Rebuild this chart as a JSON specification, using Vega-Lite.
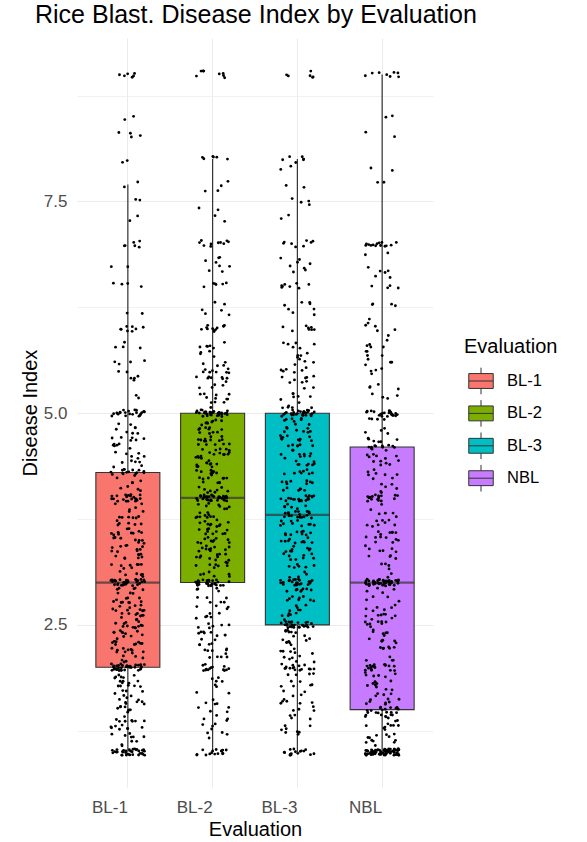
{
"$schema": "https://vega.github.io/schema/vega-lite/v6.json",
"autosize": {"type": "none"},
"padding": {"left": 77, "top": 38, "right": 154, "bottom": 55},
"width": 356,
"height": 749,
"title": {"text": "Rice Blast. Disease Index by Evaluation", "anchor": "start", "frame": "group", "dx": -42, "dy": 24.5, "fontSize": 25, "fontWeight": "normal", "color": "black", "baseline": "alphabetic", "offset": 14.7},
"config": {"font": "Liberation Sans", "view": {"stroke": null}},
"data": {"values": [
{"e":"BL-1","v":1},{"e":"BL-1","v":1},{"e":"BL-1","v":1},{"e":"BL-1","v":1},{"e":"BL-1","v":1},{"e":"BL-1","v":1},{"e":"BL-1","v":1},{"e":"BL-1","v":1},{"e":"BL-1","v":1},{"e":"BL-1","v":1},{"e":"BL-1","v":1},{"e":"BL-1","v":1},{"e":"BL-1","v":1},{"e":"BL-1","v":1},{"e":"BL-1","v":1},{"e":"BL-1","v":1},{"e":"BL-1","v":1},{"e":"BL-1","v":1},
{"e":"BL-1","v":1.1},{"e":"BL-1","v":1.1},
{"e":"BL-1","v":1.2},{"e":"BL-1","v":1.2},{"e":"BL-1","v":1.2},
{"e":"BL-1","v":1.3},{"e":"BL-1","v":1.3},{"e":"BL-1","v":1.3},{"e":"BL-1","v":1.3},
{"e":"BL-1","v":1.4},{"e":"BL-1","v":1.4},{"e":"BL-1","v":1.4},{"e":"BL-1","v":1.4},
{"e":"BL-1","v":1.5},{"e":"BL-1","v":1.5},{"e":"BL-1","v":1.5},{"e":"BL-1","v":1.5},
{"e":"BL-1","v":1.6},{"e":"BL-1","v":1.6},{"e":"BL-1","v":1.6},{"e":"BL-1","v":1.6},
{"e":"BL-1","v":1.7},{"e":"BL-1","v":1.7},{"e":"BL-1","v":1.7},
{"e":"BL-1","v":1.8},{"e":"BL-1","v":1.8},{"e":"BL-1","v":1.8},{"e":"BL-1","v":1.8},{"e":"BL-1","v":1.8},
{"e":"BL-1","v":1.9},{"e":"BL-1","v":1.9},{"e":"BL-1","v":1.9},
{"e":"BL-1","v":2},{"e":"BL-1","v":2},{"e":"BL-1","v":2},{"e":"BL-1","v":2},{"e":"BL-1","v":2},{"e":"BL-1","v":2},{"e":"BL-1","v":2},{"e":"BL-1","v":2},{"e":"BL-1","v":2},{"e":"BL-1","v":2},{"e":"BL-1","v":2},{"e":"BL-1","v":2},{"e":"BL-1","v":2},{"e":"BL-1","v":2},{"e":"BL-1","v":2},{"e":"BL-1","v":2},{"e":"BL-1","v":2},
{"e":"BL-1","v":2.1},{"e":"BL-1","v":2.1},{"e":"BL-1","v":2.1},
{"e":"BL-1","v":2.2},{"e":"BL-1","v":2.2},{"e":"BL-1","v":2.2},{"e":"BL-1","v":2.2},{"e":"BL-1","v":2.2},
{"e":"BL-1","v":2.3},{"e":"BL-1","v":2.3},{"e":"BL-1","v":2.3},{"e":"BL-1","v":2.3},{"e":"BL-1","v":2.3},
{"e":"BL-1","v":2.4},{"e":"BL-1","v":2.4},{"e":"BL-1","v":2.4},{"e":"BL-1","v":2.4},{"e":"BL-1","v":2.4},
{"e":"BL-1","v":2.5},{"e":"BL-1","v":2.5},{"e":"BL-1","v":2.5},{"e":"BL-1","v":2.5},{"e":"BL-1","v":2.5},{"e":"BL-1","v":2.5},
{"e":"BL-1","v":2.6},{"e":"BL-1","v":2.6},{"e":"BL-1","v":2.6},{"e":"BL-1","v":2.6},{"e":"BL-1","v":2.6},
{"e":"BL-1","v":2.7},{"e":"BL-1","v":2.7},{"e":"BL-1","v":2.7},{"e":"BL-1","v":2.7},{"e":"BL-1","v":2.7},
{"e":"BL-1","v":2.8},{"e":"BL-1","v":2.8},{"e":"BL-1","v":2.8},{"e":"BL-1","v":2.8},{"e":"BL-1","v":2.8},
{"e":"BL-1","v":2.9},{"e":"BL-1","v":2.9},{"e":"BL-1","v":2.9},{"e":"BL-1","v":2.9},
{"e":"BL-1","v":3},{"e":"BL-1","v":3},{"e":"BL-1","v":3},{"e":"BL-1","v":3},{"e":"BL-1","v":3},{"e":"BL-1","v":3},{"e":"BL-1","v":3},{"e":"BL-1","v":3},{"e":"BL-1","v":3},{"e":"BL-1","v":3},{"e":"BL-1","v":3},{"e":"BL-1","v":3},{"e":"BL-1","v":3},{"e":"BL-1","v":3},{"e":"BL-1","v":3},{"e":"BL-1","v":3},{"e":"BL-1","v":3},
{"e":"BL-1","v":3.1},{"e":"BL-1","v":3.1},{"e":"BL-1","v":3.1},
{"e":"BL-1","v":3.2},{"e":"BL-1","v":3.2},{"e":"BL-1","v":3.2},{"e":"BL-1","v":3.2},
{"e":"BL-1","v":3.3},{"e":"BL-1","v":3.3},{"e":"BL-1","v":3.3},{"e":"BL-1","v":3.3},
{"e":"BL-1","v":3.4},{"e":"BL-1","v":3.4},{"e":"BL-1","v":3.4},{"e":"BL-1","v":3.4},{"e":"BL-1","v":3.4},
{"e":"BL-1","v":3.5},{"e":"BL-1","v":3.5},{"e":"BL-1","v":3.5},{"e":"BL-1","v":3.5},
{"e":"BL-1","v":3.6},{"e":"BL-1","v":3.6},{"e":"BL-1","v":3.6},{"e":"BL-1","v":3.6},{"e":"BL-1","v":3.6},
{"e":"BL-1","v":3.7},{"e":"BL-1","v":3.7},{"e":"BL-1","v":3.7},
{"e":"BL-1","v":3.8},{"e":"BL-1","v":3.8},{"e":"BL-1","v":3.8},{"e":"BL-1","v":3.8},
{"e":"BL-1","v":3.9},{"e":"BL-1","v":3.9},
{"e":"BL-1","v":4},{"e":"BL-1","v":4},{"e":"BL-1","v":4},{"e":"BL-1","v":4},{"e":"BL-1","v":4},{"e":"BL-1","v":4},{"e":"BL-1","v":4},{"e":"BL-1","v":4},{"e":"BL-1","v":4},{"e":"BL-1","v":4},{"e":"BL-1","v":4},
{"e":"BL-1","v":4.1},{"e":"BL-1","v":4.1},
{"e":"BL-1","v":4.2},{"e":"BL-1","v":4.2},
{"e":"BL-1","v":4.3},{"e":"BL-1","v":4.3},{"e":"BL-1","v":4.3},{"e":"BL-1","v":4.3},{"e":"BL-1","v":4.3},{"e":"BL-1","v":4.3},{"e":"BL-1","v":4.3},{"e":"BL-1","v":4.3},
{"e":"BL-1","v":4.4},{"e":"BL-1","v":4.4},{"e":"BL-1","v":4.4},
{"e":"BL-1","v":4.5},{"e":"BL-1","v":4.5},{"e":"BL-1","v":4.5},
{"e":"BL-1","v":4.6},{"e":"BL-1","v":4.6},{"e":"BL-1","v":4.6},
{"e":"BL-1","v":4.7},{"e":"BL-1","v":4.7},{"e":"BL-1","v":4.7},
{"e":"BL-1","v":4.8},{"e":"BL-1","v":4.8},{"e":"BL-1","v":4.8},
{"e":"BL-1","v":4.9},
{"e":"BL-1","v":5},{"e":"BL-1","v":5},{"e":"BL-1","v":5},{"e":"BL-1","v":5},{"e":"BL-1","v":5},{"e":"BL-1","v":5},{"e":"BL-1","v":5},{"e":"BL-1","v":5},{"e":"BL-1","v":5},{"e":"BL-1","v":5},{"e":"BL-1","v":5},
{"e":"BL-1","v":5.2},
{"e":"BL-1","v":5.4},{"e":"BL-1","v":5.4},
{"e":"BL-1","v":5.5},
{"e":"BL-1","v":5.6},{"e":"BL-1","v":5.6},
{"e":"BL-1","v":5.8},{"e":"BL-1","v":5.8},
{"e":"BL-1","v":6},{"e":"BL-1","v":6},{"e":"BL-1","v":6},{"e":"BL-1","v":6},
{"e":"BL-1","v":6.2},
{"e":"BL-1","v":6.5},{"e":"BL-1","v":6.5},
{"e":"BL-1","v":6.7},
{"e":"BL-1","v":7},{"e":"BL-1","v":7},{"e":"BL-1","v":7},
{"e":"BL-1","v":7.3},{"e":"BL-1","v":7.5},{"e":"BL-1","v":7.7},
{"e":"BL-1","v":8},
{"e":"BL-1","v":8.3},{"e":"BL-1","v":8.3},
{"e":"BL-1","v":8.5},
{"e":"BL-1","v":9},{"e":"BL-1","v":9},{"e":"BL-1","v":9},
{"e":"BL-1","v":1},{"e":"BL-1","v":1},{"e":"BL-1","v":1},{"e":"BL-1","v":1},{"e":"BL-1","v":1},{"e":"BL-1","v":1},{"e":"BL-1","v":1},{"e":"BL-1","v":1},{"e":"BL-1","v":1},{"e":"BL-1","v":1},{"e":"BL-1","v":1},{"e":"BL-1","v":1},{"e":"BL-1","v":1},{"e":"BL-1","v":1},{"e":"BL-1","v":1},{"e":"BL-1","v":1},{"e":"BL-1","v":1},{"e":"BL-1","v":1},
{"e":"BL-1","v":1.1},{"e":"BL-1","v":1.1},
{"e":"BL-1","v":1.2},{"e":"BL-1","v":1.2},{"e":"BL-1","v":1.2},
{"e":"BL-1","v":1.3},{"e":"BL-1","v":1.3},{"e":"BL-1","v":1.3},{"e":"BL-1","v":1.3},
{"e":"BL-1","v":1.4},{"e":"BL-1","v":1.4},{"e":"BL-1","v":1.4},{"e":"BL-1","v":1.4},
{"e":"BL-1","v":1.5},{"e":"BL-1","v":1.5},{"e":"BL-1","v":1.5},{"e":"BL-1","v":1.5},
{"e":"BL-1","v":1.6},{"e":"BL-1","v":1.6},{"e":"BL-1","v":1.6},{"e":"BL-1","v":1.6},
{"e":"BL-1","v":1.7},{"e":"BL-1","v":1.7},{"e":"BL-1","v":1.7},
{"e":"BL-1","v":1.8},{"e":"BL-1","v":1.8},{"e":"BL-1","v":1.8},{"e":"BL-1","v":1.8},{"e":"BL-1","v":1.8},
{"e":"BL-1","v":1.9},{"e":"BL-1","v":1.9},{"e":"BL-1","v":1.9},
{"e":"BL-1","v":2},{"e":"BL-1","v":2},{"e":"BL-1","v":2},{"e":"BL-1","v":2},{"e":"BL-1","v":2},{"e":"BL-1","v":2},{"e":"BL-1","v":2},{"e":"BL-1","v":2},{"e":"BL-1","v":2},{"e":"BL-1","v":2},{"e":"BL-1","v":2},{"e":"BL-1","v":2},{"e":"BL-1","v":2},{"e":"BL-1","v":2},{"e":"BL-1","v":2},{"e":"BL-1","v":2},{"e":"BL-1","v":2},
{"e":"BL-1","v":2.1},{"e":"BL-1","v":2.1},{"e":"BL-1","v":2.1},
{"e":"BL-1","v":2.2},{"e":"BL-1","v":2.2},{"e":"BL-1","v":2.2},{"e":"BL-1","v":2.2},{"e":"BL-1","v":2.2},
{"e":"BL-1","v":2.3},{"e":"BL-1","v":2.3},{"e":"BL-1","v":2.3},{"e":"BL-1","v":2.3},{"e":"BL-1","v":2.3},
{"e":"BL-1","v":2.4},{"e":"BL-1","v":2.4},{"e":"BL-1","v":2.4},{"e":"BL-1","v":2.4},{"e":"BL-1","v":2.4},
{"e":"BL-1","v":2.5},{"e":"BL-1","v":2.5},{"e":"BL-1","v":2.5},{"e":"BL-1","v":2.5},{"e":"BL-1","v":2.5},{"e":"BL-1","v":2.5},
{"e":"BL-1","v":2.6},{"e":"BL-1","v":2.6},{"e":"BL-1","v":2.6},{"e":"BL-1","v":2.6},{"e":"BL-1","v":2.6},
{"e":"BL-1","v":2.7},{"e":"BL-1","v":2.7},{"e":"BL-1","v":2.7},{"e":"BL-1","v":2.7},{"e":"BL-1","v":2.7},
{"e":"BL-1","v":2.8},{"e":"BL-1","v":2.8},{"e":"BL-1","v":2.8},{"e":"BL-1","v":2.8},{"e":"BL-1","v":2.8},
{"e":"BL-1","v":2.9},{"e":"BL-1","v":2.9},{"e":"BL-1","v":2.9},{"e":"BL-1","v":2.9},
{"e":"BL-1","v":3},{"e":"BL-1","v":3},{"e":"BL-1","v":3},{"e":"BL-1","v":3},{"e":"BL-1","v":3},{"e":"BL-1","v":3},{"e":"BL-1","v":3},{"e":"BL-1","v":3},{"e":"BL-1","v":3},{"e":"BL-1","v":3},{"e":"BL-1","v":3},{"e":"BL-1","v":3},{"e":"BL-1","v":3},{"e":"BL-1","v":3},{"e":"BL-1","v":3},{"e":"BL-1","v":3},{"e":"BL-1","v":3},
{"e":"BL-1","v":3.1},{"e":"BL-1","v":3.1},{"e":"BL-1","v":3.1},
{"e":"BL-1","v":3.2},{"e":"BL-1","v":3.2},{"e":"BL-1","v":3.2},{"e":"BL-1","v":3.2},
{"e":"BL-1","v":3.3},{"e":"BL-1","v":3.3},{"e":"BL-1","v":3.3},{"e":"BL-1","v":3.3},
{"e":"BL-1","v":3.4},{"e":"BL-1","v":3.4},{"e":"BL-1","v":3.4},{"e":"BL-1","v":3.4},{"e":"BL-1","v":3.4},
{"e":"BL-1","v":3.5},{"e":"BL-1","v":3.5},{"e":"BL-1","v":3.5},{"e":"BL-1","v":3.5},
{"e":"BL-1","v":3.6},{"e":"BL-1","v":3.6},{"e":"BL-1","v":3.6},{"e":"BL-1","v":3.6},{"e":"BL-1","v":3.6},
{"e":"BL-1","v":3.7},{"e":"BL-1","v":3.7},{"e":"BL-1","v":3.7},
{"e":"BL-1","v":3.8},{"e":"BL-1","v":3.8},{"e":"BL-1","v":3.8},{"e":"BL-1","v":3.8},
{"e":"BL-1","v":3.9},{"e":"BL-1","v":3.9},
{"e":"BL-1","v":4},{"e":"BL-1","v":4},{"e":"BL-1","v":4},{"e":"BL-1","v":4},{"e":"BL-1","v":4},{"e":"BL-1","v":4},{"e":"BL-1","v":4},{"e":"BL-1","v":4},{"e":"BL-1","v":4},{"e":"BL-1","v":4},{"e":"BL-1","v":4},
{"e":"BL-1","v":4.1},{"e":"BL-1","v":4.1},
{"e":"BL-1","v":4.2},{"e":"BL-1","v":4.2},
{"e":"BL-1","v":4.3},{"e":"BL-1","v":4.3},{"e":"BL-1","v":4.3},{"e":"BL-1","v":4.3},{"e":"BL-1","v":4.3},{"e":"BL-1","v":4.3},{"e":"BL-1","v":4.3},{"e":"BL-1","v":4.3},
{"e":"BL-1","v":4.4},{"e":"BL-1","v":4.4},{"e":"BL-1","v":4.4},
{"e":"BL-1","v":4.5},{"e":"BL-1","v":4.5},{"e":"BL-1","v":4.5},
{"e":"BL-1","v":4.6},{"e":"BL-1","v":4.6},{"e":"BL-1","v":4.6},
{"e":"BL-1","v":4.7},{"e":"BL-1","v":4.7},{"e":"BL-1","v":4.7},
{"e":"BL-1","v":4.8},{"e":"BL-1","v":4.8},{"e":"BL-1","v":4.8},
{"e":"BL-1","v":4.9},
{"e":"BL-1","v":5},{"e":"BL-1","v":5},{"e":"BL-1","v":5},{"e":"BL-1","v":5},{"e":"BL-1","v":5},{"e":"BL-1","v":5},{"e":"BL-1","v":5},{"e":"BL-1","v":5},{"e":"BL-1","v":5},{"e":"BL-1","v":5},{"e":"BL-1","v":5},
{"e":"BL-1","v":5.2},
{"e":"BL-1","v":5.4},{"e":"BL-1","v":5.4},
{"e":"BL-1","v":5.5},
{"e":"BL-1","v":5.6},{"e":"BL-1","v":5.6},
{"e":"BL-1","v":5.8},{"e":"BL-1","v":5.8},
{"e":"BL-1","v":6},{"e":"BL-1","v":6},{"e":"BL-1","v":6},{"e":"BL-1","v":6},
{"e":"BL-1","v":6.2},
{"e":"BL-1","v":6.5},{"e":"BL-1","v":6.5},
{"e":"BL-1","v":6.7},
{"e":"BL-1","v":7},{"e":"BL-1","v":7},{"e":"BL-1","v":7},
{"e":"BL-1","v":7.3},{"e":"BL-1","v":7.5},{"e":"BL-1","v":7.7},
{"e":"BL-1","v":8},
{"e":"BL-1","v":8.3},{"e":"BL-1","v":8.3},
{"e":"BL-1","v":8.5},
{"e":"BL-1","v":9},{"e":"BL-1","v":9},{"e":"BL-1","v":9},

{"e":"BL-2","v":1},{"e":"BL-2","v":1},{"e":"BL-2","v":1},{"e":"BL-2","v":1},{"e":"BL-2","v":1},{"e":"BL-2","v":1},{"e":"BL-2","v":1},{"e":"BL-2","v":1},
{"e":"BL-2","v":1.2},{"e":"BL-2","v":1.2},
{"e":"BL-2","v":1.3},{"e":"BL-2","v":1.3},
{"e":"BL-2","v":1.4},{"e":"BL-2","v":1.4},
{"e":"BL-2","v":1.5},{"e":"BL-2","v":1.5},
{"e":"BL-2","v":1.6},{"e":"BL-2","v":1.6},
{"e":"BL-2","v":1.7},
{"e":"BL-2","v":1.8},{"e":"BL-2","v":1.8},
{"e":"BL-2","v":1.9},
{"e":"BL-2","v":2},{"e":"BL-2","v":2},{"e":"BL-2","v":2},{"e":"BL-2","v":2},{"e":"BL-2","v":2},{"e":"BL-2","v":2},{"e":"BL-2","v":2},
{"e":"BL-2","v":2.1},{"e":"BL-2","v":2.1},
{"e":"BL-2","v":2.2},{"e":"BL-2","v":2.2},{"e":"BL-2","v":2.2},
{"e":"BL-2","v":2.3},{"e":"BL-2","v":2.3},{"e":"BL-2","v":2.3},
{"e":"BL-2","v":2.4},{"e":"BL-2","v":2.4},{"e":"BL-2","v":2.4},{"e":"BL-2","v":2.4},
{"e":"BL-2","v":2.5},{"e":"BL-2","v":2.5},{"e":"BL-2","v":2.5},
{"e":"BL-2","v":2.6},{"e":"BL-2","v":2.6},{"e":"BL-2","v":2.6},
{"e":"BL-2","v":2.7},{"e":"BL-2","v":2.7},
{"e":"BL-2","v":2.8},{"e":"BL-2","v":2.8},{"e":"BL-2","v":2.8},
{"e":"BL-2","v":2.9},{"e":"BL-2","v":2.9},
{"e":"BL-2","v":3},{"e":"BL-2","v":3},{"e":"BL-2","v":3},{"e":"BL-2","v":3},{"e":"BL-2","v":3},{"e":"BL-2","v":3},{"e":"BL-2","v":3},{"e":"BL-2","v":3},{"e":"BL-2","v":3},{"e":"BL-2","v":3},{"e":"BL-2","v":3},{"e":"BL-2","v":3},{"e":"BL-2","v":3},{"e":"BL-2","v":3},
{"e":"BL-2","v":3.1},{"e":"BL-2","v":3.1},{"e":"BL-2","v":3.1},
{"e":"BL-2","v":3.2},{"e":"BL-2","v":3.2},{"e":"BL-2","v":3.2},{"e":"BL-2","v":3.2},
{"e":"BL-2","v":3.3},{"e":"BL-2","v":3.3},{"e":"BL-2","v":3.3},{"e":"BL-2","v":3.3},{"e":"BL-2","v":3.3},
{"e":"BL-2","v":3.4},{"e":"BL-2","v":3.4},{"e":"BL-2","v":3.4},{"e":"BL-2","v":3.4},{"e":"BL-2","v":3.4},
{"e":"BL-2","v":3.5},{"e":"BL-2","v":3.5},{"e":"BL-2","v":3.5},{"e":"BL-2","v":3.5},{"e":"BL-2","v":3.5},
{"e":"BL-2","v":3.6},{"e":"BL-2","v":3.6},{"e":"BL-2","v":3.6},{"e":"BL-2","v":3.6},{"e":"BL-2","v":3.6},
{"e":"BL-2","v":3.7},{"e":"BL-2","v":3.7},{"e":"BL-2","v":3.7},{"e":"BL-2","v":3.7},{"e":"BL-2","v":3.7},
{"e":"BL-2","v":3.8},{"e":"BL-2","v":3.8},{"e":"BL-2","v":3.8},{"e":"BL-2","v":3.8},{"e":"BL-2","v":3.8},
{"e":"BL-2","v":3.9},{"e":"BL-2","v":3.9},{"e":"BL-2","v":3.9},{"e":"BL-2","v":3.9},
{"e":"BL-2","v":4},{"e":"BL-2","v":4},{"e":"BL-2","v":4},{"e":"BL-2","v":4},{"e":"BL-2","v":4},{"e":"BL-2","v":4},{"e":"BL-2","v":4},{"e":"BL-2","v":4},{"e":"BL-2","v":4},{"e":"BL-2","v":4},{"e":"BL-2","v":4},{"e":"BL-2","v":4},{"e":"BL-2","v":4},{"e":"BL-2","v":4},{"e":"BL-2","v":4},{"e":"BL-2","v":4},
{"e":"BL-2","v":4.1},{"e":"BL-2","v":4.1},{"e":"BL-2","v":4.1},{"e":"BL-2","v":4.1},
{"e":"BL-2","v":4.2},{"e":"BL-2","v":4.2},{"e":"BL-2","v":4.2},{"e":"BL-2","v":4.2},{"e":"BL-2","v":4.2},
{"e":"BL-2","v":4.3},{"e":"BL-2","v":4.3},{"e":"BL-2","v":4.3},{"e":"BL-2","v":4.3},{"e":"BL-2","v":4.3},
{"e":"BL-2","v":4.4},{"e":"BL-2","v":4.4},{"e":"BL-2","v":4.4},{"e":"BL-2","v":4.4},{"e":"BL-2","v":4.4},
{"e":"BL-2","v":4.5},{"e":"BL-2","v":4.5},{"e":"BL-2","v":4.5},{"e":"BL-2","v":4.5},{"e":"BL-2","v":4.5},{"e":"BL-2","v":4.5},
{"e":"BL-2","v":4.6},{"e":"BL-2","v":4.6},{"e":"BL-2","v":4.6},{"e":"BL-2","v":4.6},{"e":"BL-2","v":4.6},
{"e":"BL-2","v":4.7},{"e":"BL-2","v":4.7},{"e":"BL-2","v":4.7},{"e":"BL-2","v":4.7},{"e":"BL-2","v":4.7},
{"e":"BL-2","v":4.8},{"e":"BL-2","v":4.8},{"e":"BL-2","v":4.8},{"e":"BL-2","v":4.8},{"e":"BL-2","v":4.8},
{"e":"BL-2","v":4.9},{"e":"BL-2","v":4.9},{"e":"BL-2","v":4.9},{"e":"BL-2","v":4.9},
{"e":"BL-2","v":5},{"e":"BL-2","v":5},{"e":"BL-2","v":5},{"e":"BL-2","v":5},{"e":"BL-2","v":5},{"e":"BL-2","v":5},{"e":"BL-2","v":5},{"e":"BL-2","v":5},{"e":"BL-2","v":5},{"e":"BL-2","v":5},{"e":"BL-2","v":5},{"e":"BL-2","v":5},{"e":"BL-2","v":5},{"e":"BL-2","v":5},{"e":"BL-2","v":5},{"e":"BL-2","v":5},
{"e":"BL-2","v":5.1},{"e":"BL-2","v":5.1},
{"e":"BL-2","v":5.2},{"e":"BL-2","v":5.2},{"e":"BL-2","v":5.2},{"e":"BL-2","v":5.2},
{"e":"BL-2","v":5.3},{"e":"BL-2","v":5.3},
{"e":"BL-2","v":5.4},{"e":"BL-2","v":5.4},{"e":"BL-2","v":5.4},{"e":"BL-2","v":5.4},
{"e":"BL-2","v":5.5},{"e":"BL-2","v":5.5},{"e":"BL-2","v":5.5},{"e":"BL-2","v":5.5},
{"e":"BL-2","v":5.6},{"e":"BL-2","v":5.6},
{"e":"BL-2","v":5.7},{"e":"BL-2","v":5.7},
{"e":"BL-2","v":5.8},{"e":"BL-2","v":5.8},{"e":"BL-2","v":5.8},
{"e":"BL-2","v":6},{"e":"BL-2","v":6},{"e":"BL-2","v":6},{"e":"BL-2","v":6},{"e":"BL-2","v":6},{"e":"BL-2","v":6},
{"e":"BL-2","v":6.2},{"e":"BL-2","v":6.2},
{"e":"BL-2","v":6.3},
{"e":"BL-2","v":6.5},{"e":"BL-2","v":6.5},{"e":"BL-2","v":6.5},
{"e":"BL-2","v":6.7},{"e":"BL-2","v":6.7},
{"e":"BL-2","v":6.8},{"e":"BL-2","v":6.8},
{"e":"BL-2","v":7},{"e":"BL-2","v":7},{"e":"BL-2","v":7},{"e":"BL-2","v":7},{"e":"BL-2","v":7},
{"e":"BL-2","v":7.3},{"e":"BL-2","v":7.4},{"e":"BL-2","v":7.6},{"e":"BL-2","v":7.7},
{"e":"BL-2","v":8},{"e":"BL-2","v":8},{"e":"BL-2","v":8},
{"e":"BL-2","v":9},{"e":"BL-2","v":9},{"e":"BL-2","v":9},{"e":"BL-2","v":9},
{"e":"BL-2","v":1},{"e":"BL-2","v":1},{"e":"BL-2","v":1},{"e":"BL-2","v":1},{"e":"BL-2","v":1},{"e":"BL-2","v":1},{"e":"BL-2","v":1},{"e":"BL-2","v":1},
{"e":"BL-2","v":1.2},{"e":"BL-2","v":1.2},
{"e":"BL-2","v":1.3},{"e":"BL-2","v":1.3},
{"e":"BL-2","v":1.4},{"e":"BL-2","v":1.4},
{"e":"BL-2","v":1.5},{"e":"BL-2","v":1.5},
{"e":"BL-2","v":1.6},{"e":"BL-2","v":1.6},
{"e":"BL-2","v":1.7},
{"e":"BL-2","v":1.8},{"e":"BL-2","v":1.8},
{"e":"BL-2","v":1.9},
{"e":"BL-2","v":2},{"e":"BL-2","v":2},{"e":"BL-2","v":2},{"e":"BL-2","v":2},{"e":"BL-2","v":2},{"e":"BL-2","v":2},{"e":"BL-2","v":2},
{"e":"BL-2","v":2.1},{"e":"BL-2","v":2.1},
{"e":"BL-2","v":2.2},{"e":"BL-2","v":2.2},{"e":"BL-2","v":2.2},
{"e":"BL-2","v":2.3},{"e":"BL-2","v":2.3},{"e":"BL-2","v":2.3},
{"e":"BL-2","v":2.4},{"e":"BL-2","v":2.4},{"e":"BL-2","v":2.4},{"e":"BL-2","v":2.4},
{"e":"BL-2","v":2.5},{"e":"BL-2","v":2.5},{"e":"BL-2","v":2.5},
{"e":"BL-2","v":2.6},{"e":"BL-2","v":2.6},{"e":"BL-2","v":2.6},
{"e":"BL-2","v":2.7},{"e":"BL-2","v":2.7},
{"e":"BL-2","v":2.8},{"e":"BL-2","v":2.8},{"e":"BL-2","v":2.8},
{"e":"BL-2","v":2.9},{"e":"BL-2","v":2.9},
{"e":"BL-2","v":3},{"e":"BL-2","v":3},{"e":"BL-2","v":3},{"e":"BL-2","v":3},{"e":"BL-2","v":3},{"e":"BL-2","v":3},{"e":"BL-2","v":3},{"e":"BL-2","v":3},{"e":"BL-2","v":3},{"e":"BL-2","v":3},{"e":"BL-2","v":3},{"e":"BL-2","v":3},{"e":"BL-2","v":3},{"e":"BL-2","v":3},
{"e":"BL-2","v":3.1},{"e":"BL-2","v":3.1},{"e":"BL-2","v":3.1},
{"e":"BL-2","v":3.2},{"e":"BL-2","v":3.2},{"e":"BL-2","v":3.2},{"e":"BL-2","v":3.2},
{"e":"BL-2","v":3.3},{"e":"BL-2","v":3.3},{"e":"BL-2","v":3.3},{"e":"BL-2","v":3.3},{"e":"BL-2","v":3.3},
{"e":"BL-2","v":3.4},{"e":"BL-2","v":3.4},{"e":"BL-2","v":3.4},{"e":"BL-2","v":3.4},{"e":"BL-2","v":3.4},
{"e":"BL-2","v":3.5},{"e":"BL-2","v":3.5},{"e":"BL-2","v":3.5},{"e":"BL-2","v":3.5},{"e":"BL-2","v":3.5},
{"e":"BL-2","v":3.6},{"e":"BL-2","v":3.6},{"e":"BL-2","v":3.6},{"e":"BL-2","v":3.6},{"e":"BL-2","v":3.6},
{"e":"BL-2","v":3.7},{"e":"BL-2","v":3.7},{"e":"BL-2","v":3.7},{"e":"BL-2","v":3.7},{"e":"BL-2","v":3.7},
{"e":"BL-2","v":3.8},{"e":"BL-2","v":3.8},{"e":"BL-2","v":3.8},{"e":"BL-2","v":3.8},{"e":"BL-2","v":3.8},
{"e":"BL-2","v":3.9},{"e":"BL-2","v":3.9},{"e":"BL-2","v":3.9},{"e":"BL-2","v":3.9},
{"e":"BL-2","v":4},{"e":"BL-2","v":4},{"e":"BL-2","v":4},{"e":"BL-2","v":4},{"e":"BL-2","v":4},{"e":"BL-2","v":4},{"e":"BL-2","v":4},{"e":"BL-2","v":4},{"e":"BL-2","v":4},{"e":"BL-2","v":4},{"e":"BL-2","v":4},{"e":"BL-2","v":4},{"e":"BL-2","v":4},{"e":"BL-2","v":4},{"e":"BL-2","v":4},{"e":"BL-2","v":4},
{"e":"BL-2","v":4.1},{"e":"BL-2","v":4.1},{"e":"BL-2","v":4.1},{"e":"BL-2","v":4.1},
{"e":"BL-2","v":4.2},{"e":"BL-2","v":4.2},{"e":"BL-2","v":4.2},{"e":"BL-2","v":4.2},{"e":"BL-2","v":4.2},
{"e":"BL-2","v":4.3},{"e":"BL-2","v":4.3},{"e":"BL-2","v":4.3},{"e":"BL-2","v":4.3},{"e":"BL-2","v":4.3},
{"e":"BL-2","v":4.4},{"e":"BL-2","v":4.4},{"e":"BL-2","v":4.4},{"e":"BL-2","v":4.4},{"e":"BL-2","v":4.4},
{"e":"BL-2","v":4.5},{"e":"BL-2","v":4.5},{"e":"BL-2","v":4.5},{"e":"BL-2","v":4.5},{"e":"BL-2","v":4.5},{"e":"BL-2","v":4.5},
{"e":"BL-2","v":4.6},{"e":"BL-2","v":4.6},{"e":"BL-2","v":4.6},{"e":"BL-2","v":4.6},{"e":"BL-2","v":4.6},
{"e":"BL-2","v":4.7},{"e":"BL-2","v":4.7},{"e":"BL-2","v":4.7},{"e":"BL-2","v":4.7},{"e":"BL-2","v":4.7},
{"e":"BL-2","v":4.8},{"e":"BL-2","v":4.8},{"e":"BL-2","v":4.8},{"e":"BL-2","v":4.8},{"e":"BL-2","v":4.8},
{"e":"BL-2","v":4.9},{"e":"BL-2","v":4.9},{"e":"BL-2","v":4.9},{"e":"BL-2","v":4.9},
{"e":"BL-2","v":5},{"e":"BL-2","v":5},{"e":"BL-2","v":5},{"e":"BL-2","v":5},{"e":"BL-2","v":5},{"e":"BL-2","v":5},{"e":"BL-2","v":5},{"e":"BL-2","v":5},{"e":"BL-2","v":5},{"e":"BL-2","v":5},{"e":"BL-2","v":5},{"e":"BL-2","v":5},{"e":"BL-2","v":5},{"e":"BL-2","v":5},{"e":"BL-2","v":5},{"e":"BL-2","v":5},
{"e":"BL-2","v":5.1},{"e":"BL-2","v":5.1},
{"e":"BL-2","v":5.2},{"e":"BL-2","v":5.2},{"e":"BL-2","v":5.2},{"e":"BL-2","v":5.2},
{"e":"BL-2","v":5.3},{"e":"BL-2","v":5.3},
{"e":"BL-2","v":5.4},{"e":"BL-2","v":5.4},{"e":"BL-2","v":5.4},{"e":"BL-2","v":5.4},
{"e":"BL-2","v":5.5},{"e":"BL-2","v":5.5},{"e":"BL-2","v":5.5},{"e":"BL-2","v":5.5},
{"e":"BL-2","v":5.6},{"e":"BL-2","v":5.6},
{"e":"BL-2","v":5.7},{"e":"BL-2","v":5.7},
{"e":"BL-2","v":5.8},{"e":"BL-2","v":5.8},{"e":"BL-2","v":5.8},
{"e":"BL-2","v":6},{"e":"BL-2","v":6},{"e":"BL-2","v":6},{"e":"BL-2","v":6},{"e":"BL-2","v":6},{"e":"BL-2","v":6},
{"e":"BL-2","v":6.2},{"e":"BL-2","v":6.2},
{"e":"BL-2","v":6.3},
{"e":"BL-2","v":6.5},{"e":"BL-2","v":6.5},{"e":"BL-2","v":6.5},
{"e":"BL-2","v":6.7},{"e":"BL-2","v":6.7},
{"e":"BL-2","v":6.8},{"e":"BL-2","v":6.8},
{"e":"BL-2","v":7},{"e":"BL-2","v":7},{"e":"BL-2","v":7},{"e":"BL-2","v":7},{"e":"BL-2","v":7},
{"e":"BL-2","v":7.3},{"e":"BL-2","v":7.4},{"e":"BL-2","v":7.6},{"e":"BL-2","v":7.7},
{"e":"BL-2","v":8},{"e":"BL-2","v":8},{"e":"BL-2","v":8},
{"e":"BL-2","v":9},{"e":"BL-2","v":9},{"e":"BL-2","v":9},{"e":"BL-2","v":9},

{"e":"BL-3","v":1},{"e":"BL-3","v":1},{"e":"BL-3","v":1},{"e":"BL-3","v":1},{"e":"BL-3","v":1},{"e":"BL-3","v":1},{"e":"BL-3","v":1},{"e":"BL-3","v":1},
{"e":"BL-3","v":1.2},{"e":"BL-3","v":1.2},
{"e":"BL-3","v":1.3},{"e":"BL-3","v":1.3},
{"e":"BL-3","v":1.4},{"e":"BL-3","v":1.4},
{"e":"BL-3","v":1.5},{"e":"BL-3","v":1.5},
{"e":"BL-3","v":1.6},{"e":"BL-3","v":1.6},{"e":"BL-3","v":1.6},
{"e":"BL-3","v":1.7},{"e":"BL-3","v":1.7},
{"e":"BL-3","v":1.8},{"e":"BL-3","v":1.8},{"e":"BL-3","v":1.8},
{"e":"BL-3","v":1.9},{"e":"BL-3","v":1.9},
{"e":"BL-3","v":2},{"e":"BL-3","v":2},{"e":"BL-3","v":2},{"e":"BL-3","v":2},{"e":"BL-3","v":2},{"e":"BL-3","v":2},{"e":"BL-3","v":2},{"e":"BL-3","v":2},
{"e":"BL-3","v":2.1},{"e":"BL-3","v":2.1},{"e":"BL-3","v":2.1},
{"e":"BL-3","v":2.2},{"e":"BL-3","v":2.2},{"e":"BL-3","v":2.2},
{"e":"BL-3","v":2.3},{"e":"BL-3","v":2.3},{"e":"BL-3","v":2.3},{"e":"BL-3","v":2.3},
{"e":"BL-3","v":2.4},{"e":"BL-3","v":2.4},{"e":"BL-3","v":2.4},{"e":"BL-3","v":2.4},
{"e":"BL-3","v":2.5},{"e":"BL-3","v":2.5},{"e":"BL-3","v":2.5},{"e":"BL-3","v":2.5},{"e":"BL-3","v":2.5},{"e":"BL-3","v":2.5},{"e":"BL-3","v":2.5},{"e":"BL-3","v":2.5},{"e":"BL-3","v":2.5},{"e":"BL-3","v":2.5},{"e":"BL-3","v":2.5},{"e":"BL-3","v":2.5},{"e":"BL-3","v":2.5},{"e":"BL-3","v":2.5},
{"e":"BL-3","v":2.6},{"e":"BL-3","v":2.6},{"e":"BL-3","v":2.6},
{"e":"BL-3","v":2.7},{"e":"BL-3","v":2.7},{"e":"BL-3","v":2.7},
{"e":"BL-3","v":2.8},{"e":"BL-3","v":2.8},{"e":"BL-3","v":2.8},{"e":"BL-3","v":2.8},
{"e":"BL-3","v":2.9},{"e":"BL-3","v":2.9},{"e":"BL-3","v":2.9},{"e":"BL-3","v":2.9},
{"e":"BL-3","v":3},{"e":"BL-3","v":3},{"e":"BL-3","v":3},{"e":"BL-3","v":3},{"e":"BL-3","v":3},{"e":"BL-3","v":3},{"e":"BL-3","v":3},{"e":"BL-3","v":3},{"e":"BL-3","v":3},{"e":"BL-3","v":3},{"e":"BL-3","v":3},{"e":"BL-3","v":3},
{"e":"BL-3","v":3.1},{"e":"BL-3","v":3.1},
{"e":"BL-3","v":3.2},{"e":"BL-3","v":3.2},{"e":"BL-3","v":3.2},
{"e":"BL-3","v":3.3},{"e":"BL-3","v":3.3},{"e":"BL-3","v":3.3},{"e":"BL-3","v":3.3},
{"e":"BL-3","v":3.4},{"e":"BL-3","v":3.4},{"e":"BL-3","v":3.4},{"e":"BL-3","v":3.4},
{"e":"BL-3","v":3.5},{"e":"BL-3","v":3.5},{"e":"BL-3","v":3.5},{"e":"BL-3","v":3.5},{"e":"BL-3","v":3.5},
{"e":"BL-3","v":3.6},{"e":"BL-3","v":3.6},{"e":"BL-3","v":3.6},{"e":"BL-3","v":3.6},{"e":"BL-3","v":3.6},
{"e":"BL-3","v":3.7},{"e":"BL-3","v":3.7},{"e":"BL-3","v":3.7},{"e":"BL-3","v":3.7},{"e":"BL-3","v":3.7},
{"e":"BL-3","v":3.8},{"e":"BL-3","v":3.8},{"e":"BL-3","v":3.8},{"e":"BL-3","v":3.8},{"e":"BL-3","v":3.8},{"e":"BL-3","v":3.8},{"e":"BL-3","v":3.8},{"e":"BL-3","v":3.8},{"e":"BL-3","v":3.8},
{"e":"BL-3","v":3.9},{"e":"BL-3","v":3.9},{"e":"BL-3","v":3.9},
{"e":"BL-3","v":4},{"e":"BL-3","v":4},{"e":"BL-3","v":4},{"e":"BL-3","v":4},{"e":"BL-3","v":4},{"e":"BL-3","v":4},{"e":"BL-3","v":4},{"e":"BL-3","v":4},{"e":"BL-3","v":4},{"e":"BL-3","v":4},
{"e":"BL-3","v":4.1},{"e":"BL-3","v":4.1},{"e":"BL-3","v":4.1},
{"e":"BL-3","v":4.2},{"e":"BL-3","v":4.2},{"e":"BL-3","v":4.2},{"e":"BL-3","v":4.2},
{"e":"BL-3","v":4.3},{"e":"BL-3","v":4.3},{"e":"BL-3","v":4.3},{"e":"BL-3","v":4.3},
{"e":"BL-3","v":4.4},{"e":"BL-3","v":4.4},{"e":"BL-3","v":4.4},{"e":"BL-3","v":4.4},
{"e":"BL-3","v":4.5},{"e":"BL-3","v":4.5},{"e":"BL-3","v":4.5},{"e":"BL-3","v":4.5},
{"e":"BL-3","v":4.6},{"e":"BL-3","v":4.6},{"e":"BL-3","v":4.6},{"e":"BL-3","v":4.6},
{"e":"BL-3","v":4.7},{"e":"BL-3","v":4.7},{"e":"BL-3","v":4.7},{"e":"BL-3","v":4.7},{"e":"BL-3","v":4.7},
{"e":"BL-3","v":4.8},{"e":"BL-3","v":4.8},{"e":"BL-3","v":4.8},{"e":"BL-3","v":4.8},
{"e":"BL-3","v":4.9},{"e":"BL-3","v":4.9},{"e":"BL-3","v":4.9},{"e":"BL-3","v":4.9},
{"e":"BL-3","v":5},{"e":"BL-3","v":5},{"e":"BL-3","v":5},{"e":"BL-3","v":5},{"e":"BL-3","v":5},{"e":"BL-3","v":5},{"e":"BL-3","v":5},{"e":"BL-3","v":5},{"e":"BL-3","v":5},{"e":"BL-3","v":5},{"e":"BL-3","v":5},{"e":"BL-3","v":5},{"e":"BL-3","v":5},{"e":"BL-3","v":5},
{"e":"BL-3","v":5.1},{"e":"BL-3","v":5.1},{"e":"BL-3","v":5.1},
{"e":"BL-3","v":5.2},{"e":"BL-3","v":5.2},{"e":"BL-3","v":5.2},
{"e":"BL-3","v":5.3},
{"e":"BL-3","v":5.4},{"e":"BL-3","v":5.4},{"e":"BL-3","v":5.4},{"e":"BL-3","v":5.4},
{"e":"BL-3","v":5.5},{"e":"BL-3","v":5.5},{"e":"BL-3","v":5.5},
{"e":"BL-3","v":5.6},{"e":"BL-3","v":5.6},
{"e":"BL-3","v":5.7},{"e":"BL-3","v":5.7},
{"e":"BL-3","v":5.8},{"e":"BL-3","v":5.8},{"e":"BL-3","v":5.8},
{"e":"BL-3","v":6},{"e":"BL-3","v":6},{"e":"BL-3","v":6},{"e":"BL-3","v":6},
{"e":"BL-3","v":6.2},{"e":"BL-3","v":6.2},
{"e":"BL-3","v":6.3},{"e":"BL-3","v":6.3},
{"e":"BL-3","v":6.5},{"e":"BL-3","v":6.5},{"e":"BL-3","v":6.5},{"e":"BL-3","v":6.5},
{"e":"BL-3","v":6.7},{"e":"BL-3","v":6.7},
{"e":"BL-3","v":6.8},{"e":"BL-3","v":6.8},
{"e":"BL-3","v":7},{"e":"BL-3","v":7},{"e":"BL-3","v":7},{"e":"BL-3","v":7},
{"e":"BL-3","v":7.3},
{"e":"BL-3","v":7.5},{"e":"BL-3","v":7.5},
{"e":"BL-3","v":7.7},{"e":"BL-3","v":7.9},
{"e":"BL-3","v":8},{"e":"BL-3","v":8},{"e":"BL-3","v":8},
{"e":"BL-3","v":9},{"e":"BL-3","v":9},{"e":"BL-3","v":9},
{"e":"BL-3","v":1},{"e":"BL-3","v":1},{"e":"BL-3","v":1},{"e":"BL-3","v":1},{"e":"BL-3","v":1},{"e":"BL-3","v":1},{"e":"BL-3","v":1},{"e":"BL-3","v":1},
{"e":"BL-3","v":1.2},{"e":"BL-3","v":1.2},
{"e":"BL-3","v":1.3},{"e":"BL-3","v":1.3},
{"e":"BL-3","v":1.4},{"e":"BL-3","v":1.4},
{"e":"BL-3","v":1.5},{"e":"BL-3","v":1.5},
{"e":"BL-3","v":1.6},{"e":"BL-3","v":1.6},{"e":"BL-3","v":1.6},
{"e":"BL-3","v":1.7},{"e":"BL-3","v":1.7},
{"e":"BL-3","v":1.8},{"e":"BL-3","v":1.8},{"e":"BL-3","v":1.8},
{"e":"BL-3","v":1.9},{"e":"BL-3","v":1.9},
{"e":"BL-3","v":2},{"e":"BL-3","v":2},{"e":"BL-3","v":2},{"e":"BL-3","v":2},{"e":"BL-3","v":2},{"e":"BL-3","v":2},{"e":"BL-3","v":2},{"e":"BL-3","v":2},
{"e":"BL-3","v":2.1},{"e":"BL-3","v":2.1},{"e":"BL-3","v":2.1},
{"e":"BL-3","v":2.2},{"e":"BL-3","v":2.2},{"e":"BL-3","v":2.2},
{"e":"BL-3","v":2.3},{"e":"BL-3","v":2.3},{"e":"BL-3","v":2.3},{"e":"BL-3","v":2.3},
{"e":"BL-3","v":2.4},{"e":"BL-3","v":2.4},{"e":"BL-3","v":2.4},{"e":"BL-3","v":2.4},
{"e":"BL-3","v":2.5},{"e":"BL-3","v":2.5},{"e":"BL-3","v":2.5},{"e":"BL-3","v":2.5},{"e":"BL-3","v":2.5},{"e":"BL-3","v":2.5},{"e":"BL-3","v":2.5},{"e":"BL-3","v":2.5},{"e":"BL-3","v":2.5},{"e":"BL-3","v":2.5},{"e":"BL-3","v":2.5},{"e":"BL-3","v":2.5},{"e":"BL-3","v":2.5},{"e":"BL-3","v":2.5},
{"e":"BL-3","v":2.6},{"e":"BL-3","v":2.6},{"e":"BL-3","v":2.6},
{"e":"BL-3","v":2.7},{"e":"BL-3","v":2.7},{"e":"BL-3","v":2.7},
{"e":"BL-3","v":2.8},{"e":"BL-3","v":2.8},{"e":"BL-3","v":2.8},{"e":"BL-3","v":2.8},
{"e":"BL-3","v":2.9},{"e":"BL-3","v":2.9},{"e":"BL-3","v":2.9},{"e":"BL-3","v":2.9},
{"e":"BL-3","v":3},{"e":"BL-3","v":3},{"e":"BL-3","v":3},{"e":"BL-3","v":3},{"e":"BL-3","v":3},{"e":"BL-3","v":3},{"e":"BL-3","v":3},{"e":"BL-3","v":3},{"e":"BL-3","v":3},{"e":"BL-3","v":3},{"e":"BL-3","v":3},{"e":"BL-3","v":3},
{"e":"BL-3","v":3.1},{"e":"BL-3","v":3.1},
{"e":"BL-3","v":3.2},{"e":"BL-3","v":3.2},{"e":"BL-3","v":3.2},
{"e":"BL-3","v":3.3},{"e":"BL-3","v":3.3},{"e":"BL-3","v":3.3},{"e":"BL-3","v":3.3},
{"e":"BL-3","v":3.4},{"e":"BL-3","v":3.4},{"e":"BL-3","v":3.4},{"e":"BL-3","v":3.4},
{"e":"BL-3","v":3.5},{"e":"BL-3","v":3.5},{"e":"BL-3","v":3.5},{"e":"BL-3","v":3.5},{"e":"BL-3","v":3.5},
{"e":"BL-3","v":3.6},{"e":"BL-3","v":3.6},{"e":"BL-3","v":3.6},{"e":"BL-3","v":3.6},{"e":"BL-3","v":3.6},
{"e":"BL-3","v":3.7},{"e":"BL-3","v":3.7},{"e":"BL-3","v":3.7},{"e":"BL-3","v":3.7},{"e":"BL-3","v":3.7},
{"e":"BL-3","v":3.8},{"e":"BL-3","v":3.8},{"e":"BL-3","v":3.8},{"e":"BL-3","v":3.8},{"e":"BL-3","v":3.8},{"e":"BL-3","v":3.8},{"e":"BL-3","v":3.8},{"e":"BL-3","v":3.8},{"e":"BL-3","v":3.8},
{"e":"BL-3","v":3.9},{"e":"BL-3","v":3.9},{"e":"BL-3","v":3.9},
{"e":"BL-3","v":4},{"e":"BL-3","v":4},{"e":"BL-3","v":4},{"e":"BL-3","v":4},{"e":"BL-3","v":4},{"e":"BL-3","v":4},{"e":"BL-3","v":4},{"e":"BL-3","v":4},{"e":"BL-3","v":4},{"e":"BL-3","v":4},
{"e":"BL-3","v":4.1},{"e":"BL-3","v":4.1},{"e":"BL-3","v":4.1},
{"e":"BL-3","v":4.2},{"e":"BL-3","v":4.2},{"e":"BL-3","v":4.2},{"e":"BL-3","v":4.2},
{"e":"BL-3","v":4.3},{"e":"BL-3","v":4.3},{"e":"BL-3","v":4.3},{"e":"BL-3","v":4.3},
{"e":"BL-3","v":4.4},{"e":"BL-3","v":4.4},{"e":"BL-3","v":4.4},{"e":"BL-3","v":4.4},
{"e":"BL-3","v":4.5},{"e":"BL-3","v":4.5},{"e":"BL-3","v":4.5},{"e":"BL-3","v":4.5},
{"e":"BL-3","v":4.6},{"e":"BL-3","v":4.6},{"e":"BL-3","v":4.6},{"e":"BL-3","v":4.6},
{"e":"BL-3","v":4.7},{"e":"BL-3","v":4.7},{"e":"BL-3","v":4.7},{"e":"BL-3","v":4.7},{"e":"BL-3","v":4.7},
{"e":"BL-3","v":4.8},{"e":"BL-3","v":4.8},{"e":"BL-3","v":4.8},{"e":"BL-3","v":4.8},
{"e":"BL-3","v":4.9},{"e":"BL-3","v":4.9},{"e":"BL-3","v":4.9},{"e":"BL-3","v":4.9},
{"e":"BL-3","v":5},{"e":"BL-3","v":5},{"e":"BL-3","v":5},{"e":"BL-3","v":5},{"e":"BL-3","v":5},{"e":"BL-3","v":5},{"e":"BL-3","v":5},{"e":"BL-3","v":5},{"e":"BL-3","v":5},{"e":"BL-3","v":5},{"e":"BL-3","v":5},{"e":"BL-3","v":5},{"e":"BL-3","v":5},{"e":"BL-3","v":5},
{"e":"BL-3","v":5.1},{"e":"BL-3","v":5.1},{"e":"BL-3","v":5.1},
{"e":"BL-3","v":5.2},{"e":"BL-3","v":5.2},{"e":"BL-3","v":5.2},
{"e":"BL-3","v":5.3},
{"e":"BL-3","v":5.4},{"e":"BL-3","v":5.4},{"e":"BL-3","v":5.4},{"e":"BL-3","v":5.4},
{"e":"BL-3","v":5.5},{"e":"BL-3","v":5.5},{"e":"BL-3","v":5.5},
{"e":"BL-3","v":5.6},{"e":"BL-3","v":5.6},
{"e":"BL-3","v":5.7},{"e":"BL-3","v":5.7},
{"e":"BL-3","v":5.8},{"e":"BL-3","v":5.8},{"e":"BL-3","v":5.8},
{"e":"BL-3","v":6},{"e":"BL-3","v":6},{"e":"BL-3","v":6},{"e":"BL-3","v":6},
{"e":"BL-3","v":6.2},{"e":"BL-3","v":6.2},
{"e":"BL-3","v":6.3},{"e":"BL-3","v":6.3},
{"e":"BL-3","v":6.5},{"e":"BL-3","v":6.5},{"e":"BL-3","v":6.5},{"e":"BL-3","v":6.5},
{"e":"BL-3","v":6.7},{"e":"BL-3","v":6.7},
{"e":"BL-3","v":6.8},{"e":"BL-3","v":6.8},
{"e":"BL-3","v":7},{"e":"BL-3","v":7},{"e":"BL-3","v":7},{"e":"BL-3","v":7},
{"e":"BL-3","v":7.3},
{"e":"BL-3","v":7.5},{"e":"BL-3","v":7.5},
{"e":"BL-3","v":7.7},{"e":"BL-3","v":7.9},
{"e":"BL-3","v":8},{"e":"BL-3","v":8},{"e":"BL-3","v":8},
{"e":"BL-3","v":9},{"e":"BL-3","v":9},{"e":"BL-3","v":9},

{"e":"NBL","v":1},{"e":"NBL","v":1},{"e":"NBL","v":1},{"e":"NBL","v":1},{"e":"NBL","v":1},{"e":"NBL","v":1},{"e":"NBL","v":1},{"e":"NBL","v":1},{"e":"NBL","v":1},{"e":"NBL","v":1},
{"e":"NBL","v":1},{"e":"NBL","v":1},{"e":"NBL","v":1},{"e":"NBL","v":1},{"e":"NBL","v":1},{"e":"NBL","v":1},{"e":"NBL","v":1},{"e":"NBL","v":1},{"e":"NBL","v":1},{"e":"NBL","v":1},
{"e":"NBL","v":1},{"e":"NBL","v":1},{"e":"NBL","v":1},{"e":"NBL","v":1},{"e":"NBL","v":1},{"e":"NBL","v":1},{"e":"NBL","v":1},{"e":"NBL","v":1},{"e":"NBL","v":1},{"e":"NBL","v":1},
{"e":"NBL","v":1},{"e":"NBL","v":1},{"e":"NBL","v":1},{"e":"NBL","v":1},{"e":"NBL","v":1},{"e":"NBL","v":1},{"e":"NBL","v":1},{"e":"NBL","v":1},{"e":"NBL","v":1},{"e":"NBL","v":1},
{"e":"NBL","v":1.1},{"e":"NBL","v":1.1},{"e":"NBL","v":1.1},
{"e":"NBL","v":1.2},{"e":"NBL","v":1.2},{"e":"NBL","v":1.2},
{"e":"NBL","v":1.3},{"e":"NBL","v":1.3},{"e":"NBL","v":1.3},{"e":"NBL","v":1.3},
{"e":"NBL","v":1.4},{"e":"NBL","v":1.4},{"e":"NBL","v":1.4},{"e":"NBL","v":1.4},{"e":"NBL","v":1.4},
{"e":"NBL","v":1.5},{"e":"NBL","v":1.5},{"e":"NBL","v":1.5},{"e":"NBL","v":1.5},{"e":"NBL","v":1.5},{"e":"NBL","v":1.5},{"e":"NBL","v":1.5},{"e":"NBL","v":1.5},
{"e":"NBL","v":1.6},{"e":"NBL","v":1.6},{"e":"NBL","v":1.6},{"e":"NBL","v":1.6},
{"e":"NBL","v":1.7},{"e":"NBL","v":1.7},{"e":"NBL","v":1.7},
{"e":"NBL","v":1.8},{"e":"NBL","v":1.8},{"e":"NBL","v":1.8},{"e":"NBL","v":1.8},
{"e":"NBL","v":1.9},{"e":"NBL","v":1.9},{"e":"NBL","v":1.9},
{"e":"NBL","v":2},{"e":"NBL","v":2},{"e":"NBL","v":2},{"e":"NBL","v":2},{"e":"NBL","v":2},{"e":"NBL","v":2},{"e":"NBL","v":2},{"e":"NBL","v":2},{"e":"NBL","v":2},
{"e":"NBL","v":2.1},{"e":"NBL","v":2.1},
{"e":"NBL","v":2.2},{"e":"NBL","v":2.2},{"e":"NBL","v":2.2},
{"e":"NBL","v":2.3},{"e":"NBL","v":2.3},{"e":"NBL","v":2.3},
{"e":"NBL","v":2.4},{"e":"NBL","v":2.4},{"e":"NBL","v":2.4},
{"e":"NBL","v":2.5},{"e":"NBL","v":2.5},{"e":"NBL","v":2.5},{"e":"NBL","v":2.5},
{"e":"NBL","v":2.6},{"e":"NBL","v":2.6},{"e":"NBL","v":2.6},{"e":"NBL","v":2.6},
{"e":"NBL","v":2.7},{"e":"NBL","v":2.7},{"e":"NBL","v":2.7},
{"e":"NBL","v":2.8},{"e":"NBL","v":2.8},
{"e":"NBL","v":2.9},{"e":"NBL","v":2.9},
{"e":"NBL","v":3},{"e":"NBL","v":3},{"e":"NBL","v":3},{"e":"NBL","v":3},{"e":"NBL","v":3},{"e":"NBL","v":3},{"e":"NBL","v":3},{"e":"NBL","v":3},{"e":"NBL","v":3},{"e":"NBL","v":3},{"e":"NBL","v":3},
{"e":"NBL","v":3},{"e":"NBL","v":3},{"e":"NBL","v":3},{"e":"NBL","v":3},{"e":"NBL","v":3},{"e":"NBL","v":3},{"e":"NBL","v":3},{"e":"NBL","v":3},{"e":"NBL","v":3},{"e":"NBL","v":3},{"e":"NBL","v":3},
{"e":"NBL","v":3.1},
{"e":"NBL","v":3.2},{"e":"NBL","v":3.2},
{"e":"NBL","v":3.3},{"e":"NBL","v":3.3},
{"e":"NBL","v":3.4},{"e":"NBL","v":3.4},{"e":"NBL","v":3.4},
{"e":"NBL","v":3.5},{"e":"NBL","v":3.5},{"e":"NBL","v":3.5},{"e":"NBL","v":3.5},
{"e":"NBL","v":3.6},{"e":"NBL","v":3.6},{"e":"NBL","v":3.6},
{"e":"NBL","v":3.7},{"e":"NBL","v":3.7},{"e":"NBL","v":3.7},{"e":"NBL","v":3.7},
{"e":"NBL","v":3.8},{"e":"NBL","v":3.8},
{"e":"NBL","v":3.9},
{"e":"NBL","v":4},{"e":"NBL","v":4},{"e":"NBL","v":4},{"e":"NBL","v":4},{"e":"NBL","v":4},{"e":"NBL","v":4},{"e":"NBL","v":4},{"e":"NBL","v":4},
{"e":"NBL","v":4.1},{"e":"NBL","v":4.1},
{"e":"NBL","v":4.2},{"e":"NBL","v":4.2},
{"e":"NBL","v":4.3},{"e":"NBL","v":4.3},{"e":"NBL","v":4.3},
{"e":"NBL","v":4.4},{"e":"NBL","v":4.4},{"e":"NBL","v":4.4},
{"e":"NBL","v":4.5},{"e":"NBL","v":4.5},{"e":"NBL","v":4.5},
{"e":"NBL","v":4.6},{"e":"NBL","v":4.6},{"e":"NBL","v":4.6},{"e":"NBL","v":4.6},{"e":"NBL","v":4.6},{"e":"NBL","v":4.6},
{"e":"NBL","v":4.7},{"e":"NBL","v":4.7},{"e":"NBL","v":4.7},
{"e":"NBL","v":4.8},{"e":"NBL","v":4.8},
{"e":"NBL","v":4.9},{"e":"NBL","v":4.9},
{"e":"NBL","v":5},{"e":"NBL","v":5},{"e":"NBL","v":5},{"e":"NBL","v":5},{"e":"NBL","v":5},{"e":"NBL","v":5},{"e":"NBL","v":5},{"e":"NBL","v":5},{"e":"NBL","v":5},{"e":"NBL","v":5},{"e":"NBL","v":5},
{"e":"NBL","v":5.2},{"e":"NBL","v":5.2},
{"e":"NBL","v":5.3},{"e":"NBL","v":5.3},
{"e":"NBL","v":5.5},{"e":"NBL","v":5.5},
{"e":"NBL","v":5.6},{"e":"NBL","v":5.6},
{"e":"NBL","v":5.7},{"e":"NBL","v":5.7},
{"e":"NBL","v":5.8},{"e":"NBL","v":5.8},
{"e":"NBL","v":5.9},
{"e":"NBL","v":6},{"e":"NBL","v":6},
{"e":"NBL","v":6.1},
{"e":"NBL","v":6.3},{"e":"NBL","v":6.3},
{"e":"NBL","v":6.5},{"e":"NBL","v":6.5},
{"e":"NBL","v":6.6},
{"e":"NBL","v":6.7},{"e":"NBL","v":6.7},
{"e":"NBL","v":6.9},
{"e":"NBL","v":7},{"e":"NBL","v":7},{"e":"NBL","v":7},{"e":"NBL","v":7},{"e":"NBL","v":7},{"e":"NBL","v":7},{"e":"NBL","v":7},
{"e":"NBL","v":7.7},{"e":"NBL","v":7.9},{"e":"NBL","v":8.3},{"e":"NBL","v":8.5},
{"e":"NBL","v":9},{"e":"NBL","v":9},{"e":"NBL","v":9},{"e":"NBL","v":9},
{"e":"NBL","v":1},{"e":"NBL","v":1},{"e":"NBL","v":1},{"e":"NBL","v":1},{"e":"NBL","v":1},{"e":"NBL","v":1},{"e":"NBL","v":1},{"e":"NBL","v":1},{"e":"NBL","v":1},{"e":"NBL","v":1},
{"e":"NBL","v":1},{"e":"NBL","v":1},{"e":"NBL","v":1},{"e":"NBL","v":1},{"e":"NBL","v":1},{"e":"NBL","v":1},{"e":"NBL","v":1},{"e":"NBL","v":1},{"e":"NBL","v":1},{"e":"NBL","v":1},
{"e":"NBL","v":1},{"e":"NBL","v":1},{"e":"NBL","v":1},{"e":"NBL","v":1},{"e":"NBL","v":1},{"e":"NBL","v":1},{"e":"NBL","v":1},{"e":"NBL","v":1},{"e":"NBL","v":1},{"e":"NBL","v":1},
{"e":"NBL","v":1},{"e":"NBL","v":1},{"e":"NBL","v":1},{"e":"NBL","v":1},{"e":"NBL","v":1},{"e":"NBL","v":1},{"e":"NBL","v":1},{"e":"NBL","v":1},{"e":"NBL","v":1},{"e":"NBL","v":1},
{"e":"NBL","v":1.1},{"e":"NBL","v":1.1},{"e":"NBL","v":1.1},
{"e":"NBL","v":1.2},{"e":"NBL","v":1.2},{"e":"NBL","v":1.2},
{"e":"NBL","v":1.3},{"e":"NBL","v":1.3},{"e":"NBL","v":1.3},{"e":"NBL","v":1.3},
{"e":"NBL","v":1.4},{"e":"NBL","v":1.4},{"e":"NBL","v":1.4},{"e":"NBL","v":1.4},{"e":"NBL","v":1.4},
{"e":"NBL","v":1.5},{"e":"NBL","v":1.5},{"e":"NBL","v":1.5},{"e":"NBL","v":1.5},{"e":"NBL","v":1.5},{"e":"NBL","v":1.5},{"e":"NBL","v":1.5},{"e":"NBL","v":1.5},
{"e":"NBL","v":1.6},{"e":"NBL","v":1.6},{"e":"NBL","v":1.6},{"e":"NBL","v":1.6},
{"e":"NBL","v":1.7},{"e":"NBL","v":1.7},{"e":"NBL","v":1.7},
{"e":"NBL","v":1.8},{"e":"NBL","v":1.8},{"e":"NBL","v":1.8},{"e":"NBL","v":1.8},
{"e":"NBL","v":1.9},{"e":"NBL","v":1.9},{"e":"NBL","v":1.9},
{"e":"NBL","v":2},{"e":"NBL","v":2},{"e":"NBL","v":2},{"e":"NBL","v":2},{"e":"NBL","v":2},{"e":"NBL","v":2},{"e":"NBL","v":2},{"e":"NBL","v":2},{"e":"NBL","v":2},
{"e":"NBL","v":2.1},{"e":"NBL","v":2.1},
{"e":"NBL","v":2.2},{"e":"NBL","v":2.2},{"e":"NBL","v":2.2},
{"e":"NBL","v":2.3},{"e":"NBL","v":2.3},{"e":"NBL","v":2.3},
{"e":"NBL","v":2.4},{"e":"NBL","v":2.4},{"e":"NBL","v":2.4},
{"e":"NBL","v":2.5},{"e":"NBL","v":2.5},{"e":"NBL","v":2.5},{"e":"NBL","v":2.5},
{"e":"NBL","v":2.6},{"e":"NBL","v":2.6},{"e":"NBL","v":2.6},{"e":"NBL","v":2.6},
{"e":"NBL","v":2.7},{"e":"NBL","v":2.7},{"e":"NBL","v":2.7},
{"e":"NBL","v":2.8},{"e":"NBL","v":2.8},
{"e":"NBL","v":2.9},{"e":"NBL","v":2.9},
{"e":"NBL","v":3},{"e":"NBL","v":3},{"e":"NBL","v":3},{"e":"NBL","v":3},{"e":"NBL","v":3},{"e":"NBL","v":3},{"e":"NBL","v":3},{"e":"NBL","v":3},{"e":"NBL","v":3},{"e":"NBL","v":3},{"e":"NBL","v":3},
{"e":"NBL","v":3},{"e":"NBL","v":3},{"e":"NBL","v":3},{"e":"NBL","v":3},{"e":"NBL","v":3},{"e":"NBL","v":3},{"e":"NBL","v":3},{"e":"NBL","v":3},{"e":"NBL","v":3},{"e":"NBL","v":3},{"e":"NBL","v":3},
{"e":"NBL","v":3.1},
{"e":"NBL","v":3.2},{"e":"NBL","v":3.2},
{"e":"NBL","v":3.3},{"e":"NBL","v":3.3},
{"e":"NBL","v":3.4},{"e":"NBL","v":3.4},{"e":"NBL","v":3.4},
{"e":"NBL","v":3.5},{"e":"NBL","v":3.5},{"e":"NBL","v":3.5},{"e":"NBL","v":3.5},
{"e":"NBL","v":3.6},{"e":"NBL","v":3.6},{"e":"NBL","v":3.6},
{"e":"NBL","v":3.7},{"e":"NBL","v":3.7},{"e":"NBL","v":3.7},{"e":"NBL","v":3.7},
{"e":"NBL","v":3.8},{"e":"NBL","v":3.8},
{"e":"NBL","v":3.9},
{"e":"NBL","v":4},{"e":"NBL","v":4},{"e":"NBL","v":4},{"e":"NBL","v":4},{"e":"NBL","v":4},{"e":"NBL","v":4},{"e":"NBL","v":4},{"e":"NBL","v":4},
{"e":"NBL","v":4.1},{"e":"NBL","v":4.1},
{"e":"NBL","v":4.2},{"e":"NBL","v":4.2},
{"e":"NBL","v":4.3},{"e":"NBL","v":4.3},{"e":"NBL","v":4.3},
{"e":"NBL","v":4.4},{"e":"NBL","v":4.4},{"e":"NBL","v":4.4},
{"e":"NBL","v":4.5},{"e":"NBL","v":4.5},{"e":"NBL","v":4.5},
{"e":"NBL","v":4.6},{"e":"NBL","v":4.6},{"e":"NBL","v":4.6},{"e":"NBL","v":4.6},{"e":"NBL","v":4.6},{"e":"NBL","v":4.6},
{"e":"NBL","v":4.7},{"e":"NBL","v":4.7},{"e":"NBL","v":4.7},
{"e":"NBL","v":4.8},{"e":"NBL","v":4.8},
{"e":"NBL","v":4.9},{"e":"NBL","v":4.9},
{"e":"NBL","v":5},{"e":"NBL","v":5},{"e":"NBL","v":5},{"e":"NBL","v":5},{"e":"NBL","v":5},{"e":"NBL","v":5},{"e":"NBL","v":5},{"e":"NBL","v":5},{"e":"NBL","v":5},{"e":"NBL","v":5},{"e":"NBL","v":5},
{"e":"NBL","v":5.2},{"e":"NBL","v":5.2},
{"e":"NBL","v":5.3},{"e":"NBL","v":5.3},
{"e":"NBL","v":5.5},{"e":"NBL","v":5.5},
{"e":"NBL","v":5.6},{"e":"NBL","v":5.6},
{"e":"NBL","v":5.7},{"e":"NBL","v":5.7},
{"e":"NBL","v":5.8},{"e":"NBL","v":5.8},
{"e":"NBL","v":5.9},
{"e":"NBL","v":6},{"e":"NBL","v":6},
{"e":"NBL","v":6.1},
{"e":"NBL","v":6.3},{"e":"NBL","v":6.3},
{"e":"NBL","v":6.5},{"e":"NBL","v":6.5},
{"e":"NBL","v":6.6},
{"e":"NBL","v":6.7},{"e":"NBL","v":6.7},
{"e":"NBL","v":6.9},
{"e":"NBL","v":7},{"e":"NBL","v":7},{"e":"NBL","v":7},{"e":"NBL","v":7},{"e":"NBL","v":7},{"e":"NBL","v":7},{"e":"NBL","v":7},
{"e":"NBL","v":7.7},{"e":"NBL","v":7.9},{"e":"NBL","v":8.3},{"e":"NBL","v":8.5},
{"e":"NBL","v":9},{"e":"NBL","v":9},{"e":"NBL","v":9},{"e":"NBL","v":9}
]},
"resolve": {"axis": {"y": "independent"}},
"layer": [
{
"mark": {"type": "boxplot", "extent": 1.5, "size": 64, "outliers": false,
  "median": {"color": "#333333", "thickness": 2.2},
  "rule": {"color": "#333333", "strokeWidth": 1.2},
  "box": {"stroke": "#333333", "strokeWidth": 1.1, "opacity": 1}},
"encoding": {
  "x": {"field": "e", "type": "nominal",
    "scale": {"type": "band", "paddingInner": 0, "paddingOuter": 0.1},
    "axis": {"title": "Evaluation", "titleFontSize": 20, "titleFontWeight": "normal", "titleColor": "black", "titleBaseline": "alphabetic", "titleY": 48, "titleX": 178,
      "labelAngle": 0, "labelAlign": "right", "labelFontSize": 17, "labelColor": "#4D4D4D", "labelPadding": 12,
      "ticks": false, "domain": false, "grid": true, "gridColor": "#EBEBEB", "gridWidth": 1, "bandPosition": 0.5}},
  "y": {"field": "v", "type": "quantitative",
    "scale": {"domain": [0.586, 9.43], "nice": false, "zero": false},
    "axis": {"title": "Disease Index", "values": [2.5, 5, 7.5], "format": ".1f", "titleFontSize": 20, "titleFontWeight": "normal", "titleColor": "black",
      "titleAngle": -90, "titleBaseline": "alphabetic", "titleAlign": "center", "titleX": -40.3, "titleY": 374.5,
      "labelFontSize": 17, "labelColor": "#4D4D4D", "labelPadding": 10, "ticks": false, "domain": false,
      "grid": true, "gridColor": "#EBEBEB", "gridWidth": 1}},
  "color": {"field": "e", "type": "nominal",
    "scale": {"domain": ["BL-1", "BL-2", "BL-3", "NBL"], "range": ["#F8766D", "#7CAE00", "#00BFC4", "#C77CFF"]},
    "legend": {"title": "Evaluation", "orient": "none", "legendX": 387, "legendY": 299, "padding": 0,
      "titleFontSize": 20, "titleFontWeight": "normal", "titleColor": "black", "titlePadding": 10,
      "labelFontSize": 16.5, "labelColor": "black", "labelOffset": 12,
      "symbolType": "M-0.92,-0.56H0.92V0.56H-0.92Z M-0.92,0H0.92 M0,-0.56V-1 M0,0.56V1",
      "symbolSize": 708, "symbolStrokeColor": "#333333", "symbolStrokeWidth": 1, "symbolOffset": 3, "rowPadding": 0.4,
      "encode": {"symbols": {"update": {"fill": {"scale": "color", "field": "value"}, "stroke": {"value": "#333333"}, "strokeWidth": {"value": 1.1}, "opacity": {"value": 1}}}}}}
}
},
{
"transform": [
  {"window": [{"op": "row_number", "as": "i"}]},
  {"calculate": "sin(datum.i * 12.9898) * 43758.5453", "as": "hx"},
  {"calculate": "sin(datum.i * 78.233) * 24634.6345", "as": "hy"},
  {"calculate": "(datum.hx - floor(datum.hx) - 0.5) * 0.4", "as": "jx"},
  {"calculate": "datum.v + (datum.hy - floor(datum.hy) - 0.5) * 0.08", "as": "vy"}
],
"mark": {"type": "circle", "size": 8, "color": "black", "opacity": 1},
"encoding": {
  "x": {"field": "e", "type": "nominal", "scale": {"type": "band", "paddingInner": 0, "paddingOuter": 0.1}},
  "xOffset": {"field": "jx", "type": "quantitative", "scale": {"domain": [-0.5, 0.5], "range": [0, 84.76]}},
  "y": {"field": "vy", "type": "quantitative",
    "scale": {"domain": [0.586, 9.43], "nice": false, "zero": false},
    "axis": {"title": null, "values": [1.25, 3.75, 6.25, 8.75], "labels": false, "ticks": false, "domain": false, "grid": true, "gridColor": "#EBEBEB", "gridWidth": 0.7}}
}
}
]
}
